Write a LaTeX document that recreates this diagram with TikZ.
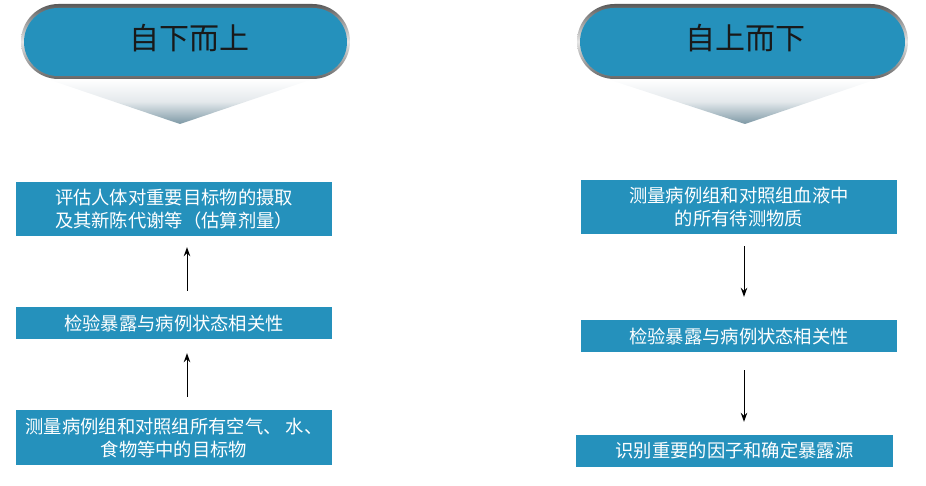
\documentclass[tikz,border=0pt]{standalone}
\usepackage{fontspec}
\setmainfont{Noto Sans CJK SC}
\usetikzlibrary{arrows.meta}
\definecolor{boxblue}{RGB}{37,145,188}
\definecolor{tipgray}{RGB}{125,152,165}
\definecolor{midgray}{RGB}{228,233,236}
\begin{document}
\begin{tikzpicture}[x=1pt,y=-1pt,
  stepbox/.style={fill=boxblue, text=white, font=\fontsize{18.3}{23}\selectfont, align=center, inner sep=0pt, minimum width=316pt},
  titletext/.style={text=black!90, font=\fontsize{30}{32}\selectfont, inner sep=0pt},
  rim/.style={top color=black!65, bottom color=black!60, middle color=black!10, rounded corners=37.5pt},
  tail/.style={top color=white, bottom color=tipgray, middle color=midgray},
  arr/.style={-{Stealth[length=9pt,width=6.5pt]}, line width=1pt, black}]
\useasboundingbox (0,0) rectangle (926,486);
% left header
\shade[tail] (47,79) -- (313,79) -- (180,124) -- cycle;
\shade[rim] (21,4) rectangle (350,79);
\fill[boxblue, rounded corners=34pt] (24,8) rectangle (347,76);
\node[titletext] (tl) at (189,38) {自下而上};
% right header
\shade[tail] (607,79) -- (877,79) -- (745,124) -- cycle;
\shade[rim] (577,4) rectangle (908,79);
\fill[boxblue, rounded corners=34pt] (580,8) rectangle (905,76);
\node[titletext] (tr) at (745,38) {自上而下};
% left boxes
\node[stepbox, minimum height=54pt] (l1) at (174,209) {评估人体对重要目标物的摄取\\及其新陈代谢等（估算剂量）};
\node[stepbox, minimum height=32pt] (l2) at (174,323) {检验暴露与病例状态相关性};
\node[stepbox, minimum height=55pt] (l3) at (174,437.5) {测量病例组和对照组所有空气、\ 水、\\食物等中的目标物};
\draw[arr] ([xshift=13pt,yshift=16pt]l2.north) -- ([xshift=13pt,yshift=-11pt]l1.south);
\draw[arr] ([xshift=13pt,yshift=13pt]l3.north) -- ([xshift=13pt,yshift=-14pt]l2.south);
% right boxes
\node[stepbox, minimum height=54pt] (r1) at (739,207) {测量病例组和对照组血液中\\的所有待测物质};
\node[stepbox, minimum height=32pt] (r2) at (739,336) {检验暴露与病例状态相关性};
\node[stepbox, minimum height=32pt, minimum width=317pt] (r3) at (734.5,451) {识别重要的因子和确定暴露源};
\draw[arr] ([xshift=5pt,yshift=-12pt]r1.south) -- ([xshift=5pt,yshift=23pt]r2.north);
\draw[arr] ([xshift=5pt,yshift=-18pt]r2.south) -- ([xshift=9.5pt,yshift=13pt]r3.north);
\end{tikzpicture}
\end{document}
